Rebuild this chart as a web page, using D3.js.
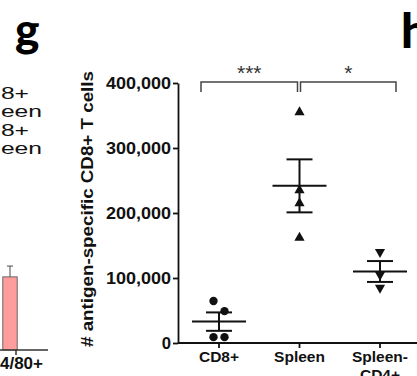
<!DOCTYPE html>
<html lang="en">
<head>
  <meta charset="UTF-8">
  <title>Antigen-specific CD8+ T cells</title>
  <style>
    body { margin: 0; background: #fff; }
    svg { display: block; font-family: "Liberation Sans", Arial, sans-serif; }
    .tick text { font-weight: bold; fill: #111; }
  </style>
</head>
<body>
<svg width="417" height="376"></svg>
<script src="https://d3js.org/d3.v7.min.js"></script>
<script>
  // right panel data
  const categories = ["CD8+", "Spleen", "Spleen-CD4+"];
  const catLabels = [["CD8+"], ["Spleen"], ["Spleen-", "CD4+"]];
  const shapes = ["circle", "triangle", "triangleDown"];
  const cd8Values = [64600, 49000, 9000, 9000];
  const spleenValues = [355000, 235000, 215000, 162000];
  const spleenCd4Values = [140000, 105000, 85000];
  const yTicks = [0, 100000, 200000, 300000, 400000];
  const comparisons = [
    { from: "CD8+", to: "Spleen", label: "***" },
    { from: "Spleen", to: "Spleen-CD4+", label: "*" }
  ];

  // left (cut off) panel data
  const leftCategories = ["F4/80+"];
  const leftValues = [11.5];
  const leftErrors = [1.7];
  const legendLines = ["CD8+", "Spleen", "CD8+", "Spleen"];

  const svg = d3.select("svg");
  const groups = [cd8Values, spleenValues, spleenCd4Values];

  const x = d3.scalePoint().domain(categories).range([219, 380]);
  const y = d3.scaleLinear().domain([0, 400000]).range([343, 83]);
  const axisX = 178;

  // panel letters
  svg.append("text").attr("x", 15).attr("y", 46)
    .style("font-family", "Lato, 'Open Sans', sans-serif").style("font-weight", "900")
    .style("font-size", "46px").text("g");
  svg.append("text").attr("x", 401).attr("y", 48)
    .style("font-family", "Lato, 'Open Sans', sans-serif").style("font-weight", "900")
    .style("font-size", "48px").text("h");

  // left panel fragment: legend text, clipped by the page edge
  legendLines.forEach((t, i) => {
    svg.append("text")
      .attr("transform", `translate(${i % 2 ? 42 : 29},${99 + i * 18.3}) scale(1.45,1)`)
      .attr("text-anchor", "end")
      .style("font-size", "17px").style("fill", "#111")
      .text(t);
  });

  const lx = d3.scaleBand().domain(leftCategories).range([-2, 22]).padding(0.25);
  const ly = d3.scaleLinear().domain([0, 14]).range([350, 261]);

  svg.selectAll(".lbar").data(leftValues).enter().append("rect")
    .attr("x", (d, i) => lx(leftCategories[i]))
    .attr("width", lx.bandwidth())
    .attr("y", d => ly(d))
    .attr("height", d => ly(0) - ly(d))
    .attr("fill", "#ff9d9d").attr("stroke", "#666").attr("stroke-width", 1);

  leftValues.forEach((d, i) => {
    const cx = lx(leftCategories[i]) + lx.bandwidth() / 2;
    svg.append("line").attr("x1", cx).attr("x2", cx)
      .attr("y1", ly(d)).attr("y2", ly(d + leftErrors[i]))
      .attr("stroke", "#666").attr("stroke-width", 1.2);
    svg.append("line").attr("x1", cx - 3).attr("x2", cx + 3)
      .attr("y1", ly(d + leftErrors[i])).attr("y2", ly(d + leftErrors[i]))
      .attr("stroke", "#666").attr("stroke-width", 1.2);
  });

  svg.append("line").attr("x1", 0).attr("x2", 48).attr("y1", 350).attr("y2", 350)
    .attr("stroke", "#333").attr("stroke-width", 1.5);
  svg.append("line").attr("x1", 16).attr("x2", 16).attr("y1", 350).attr("y2", 355)
    .attr("stroke", "#333").attr("stroke-width", 1.5);
  svg.append("text").attr("x", 43).attr("y", 369).attr("text-anchor", "end")
    .style("font-size", "17px").style("font-weight", "bold").style("fill", "#111")
    .text(leftCategories[0]);

  // y axis
  const yAxis = svg.append("g")
    .attr("transform", `translate(${axisX},0)`)
    .call(d3.axisLeft(y).tickValues(yTicks).tickFormat(d3.format(",")).tickSize(5).tickSizeOuter(0).tickPadding(2));
  yAxis.selectAll("path, line").attr("stroke", "#111").attr("stroke-width", 1.8);
  yAxis.selectAll("text")
    .style("font-size", "17px")
    .attr("textLength", function () { return this.textContent.length * 9.3; })
    .attr("lengthAdjust", "spacingAndGlyphs");

  svg.append("text")
    .attr("transform", `translate(93,209) rotate(-90)`)
    .attr("text-anchor", "middle")
    .attr("textLength", 276).attr("lengthAdjust", "spacingAndGlyphs")
    .style("font-size", "16px").style("font-weight", "bold").style("fill", "#111")
    .text("# antigen-specific CD8+ T cells");

  // x axis
  svg.append("line").attr("x1", axisX).attr("x2", 417).attr("y1", y(0)).attr("y2", y(0))
    .attr("stroke", "#111").attr("stroke-width", 1.8);
  categories.forEach((c, i) => {
    svg.append("line").attr("x1", x(c)).attr("x2", x(c)).attr("y1", y(0)).attr("y2", y(0) + 5)
      .attr("stroke", "#111").attr("stroke-width", 1.8);
    catLabels[i].forEach((t, j) => {
      svg.append("text").attr("x", x(c)).attr("y", 362 + j * 18)
        .attr("text-anchor", "middle")
        .style("font-size", "15.5px").style("font-weight", "bold").style("fill", "#111")
        .text(t);
    });
  });

  // points with simple side-by-side offset for near values
  const symbolFor = {
    circle: d3.symbol().type(d3.symbolCircle).size(55),
    triangle: d3.symbol().type(d3.symbolTriangle).size(45),
    triangleDown: d3.symbol().type(d3.symbolTriangle).size(45)
  };

  groups.forEach((vals, gi) => {
    const cx = x(categories[gi]);
    const sorted = vals.map(v => y(v)).sort((a, b) => a - b);
    const clusters = [];
    sorted.forEach(py => {
      const last = clusters[clusters.length - 1];
      if (last && py - last[0] < 12) last.push(py); else clusters.push([py]);
    });
    clusters.forEach(cl => {
      cl.forEach((py, k) => {
        const off = (k - (cl.length - 1) / 2) * 11;
        const rot = shapes[gi] === "triangleDown" ? 180 : 0;
        svg.append("path")
          .attr("d", symbolFor[shapes[gi]]())
          .attr("transform", `translate(${cx + off},${py}) rotate(${rot})`)
          .attr("fill", "#111");
      });
    });

    const mean = d3.mean(vals);
    const sem = d3.deviation(vals) / Math.sqrt(vals.length);
    const line = (x1, x2, y1, y2) => svg.append("line")
      .attr("x1", x1).attr("x2", x2).attr("y1", y1).attr("y2", y2)
      .attr("stroke", "#111").attr("stroke-width", 2);
    line(cx - 27, cx + 27, y(mean), y(mean));
    line(cx, cx, y(mean + sem), y(mean - sem));
    line(cx - 13, cx + 13, y(mean + sem), y(mean + sem));
    line(cx - 13, cx + 13, y(mean - sem), y(mean - sem));
  });

  // significance brackets
  comparisons.forEach(cmp => {
    const first = categories.indexOf(cmp.from) === 0;
    const last = categories.indexOf(cmp.to) === categories.length - 1;
    const x1 = x(cmp.from) + (first ? -18 : 1);
    const x2 = x(cmp.to) + (last ? 16 : -2);
    svg.append("path")
      .attr("d", `M${x1},92 V82 H${x2} V92`)
      .attr("fill", "none").attr("stroke", "#444").attr("stroke-width", 1.5);
    svg.append("text").attr("x", (x1 + x2) / 2).attr("y", 80)
      .attr("text-anchor", "middle")
      .style("font-size", "21px").style("fill", "#333")
      .text(cmp.label);
  });
</script>
</body>
</html>
